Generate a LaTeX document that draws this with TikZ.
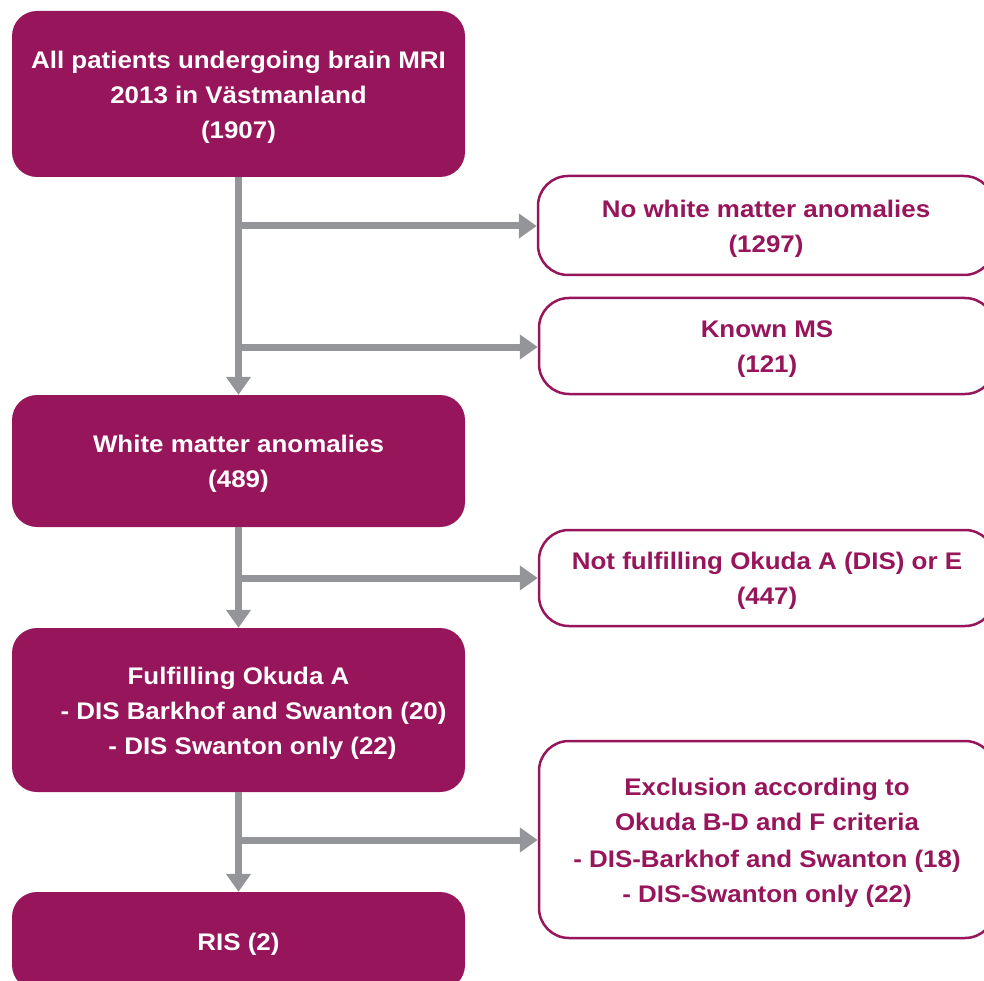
\documentclass[tikz,border=0pt]{standalone}
\usepackage{fontspec}
\setmainfont{Liberation Sans}[FakeStretch=1.08]
\usetikzlibrary{arrows.meta}
\definecolor{plum}{HTML}{97155A}
\definecolor{arrgray}{HTML}{939598}
\tikzset{
  x=1pt, y=-1pt,
  txt/.style={font=\fontsize{24}{35}\selectfont\bfseries, align=center, inner sep=0pt},
  fillbox/.style={fill=plum, rounded corners=25pt, minimum width=453pt, inner sep=0pt},
  outbox/.style={draw=plum, line width=2.5pt, fill=white, rounded corners=30pt, minimum width=456pt, inner sep=0pt},
  wtxt/.style={txt, text=white, yshift=-3pt},
  ptxt/.style={txt, text=plum, yshift=-3pt},
  arr/.style={draw=arrgray, line width=7pt, -{Triangle[length=18pt,width=24pt]}}
}
\begin{document}
\begin{tikzpicture}
\useasboundingbox (0,0) rectangle (984,981);
\clip (0,0) rectangle (984,981);
\node[fillbox, minimum height=166pt, label={[wtxt]center:All patients undergoing brain MRI\\2013 in Västmanland\\(1907)}] (b1) at (238.5,94) {};
\node[outbox, minimum height=99pt, label={[ptxt]center:No white matter anomalies\\(1297)}] (b2) at (766,225.5) {};
\node[outbox, minimum height=96pt, label={[ptxt]center:Known MS\\(121)}] (b3) at (767,346) {};
\node[fillbox, minimum height=132pt, label={[wtxt]center:White matter anomalies\\(489)}] (b4) at (238.5,461) {};
\node[outbox, minimum height=96pt, label={[ptxt]center:Not fulfilling Okuda A (DIS) or E\\(447)}] (b5) at (767,578) {};
\node[fillbox, minimum height=164pt, label={[wtxt]center:Fulfilling Okuda A\\\hspace*{30pt}- DIS Barkhof and Swanton (20)\\\hspace*{28pt}- DIS Swanton only (22)}] (b6) at (238.5,710) {};
\node[outbox, minimum height=197pt, label={[ptxt]center:Exclusion according to\\Okuda B-D and F criteria\\[2pt]- DIS-Barkhof and Swanton (18)\\- DIS-Swanton only (22)}] (b7) at (767,839.5) {};
\node[fillbox, minimum height=98pt, label={[wtxt]center:RIS (2)}] (b8) at (238.5,941) {};
% connectors
\coordinate (j1) at (238.5,226);
\coordinate (j2) at (238.5,347);
\coordinate (j3) at (238.5,578);
\coordinate (j4) at (238.5,840);
\draw[arr] (b1.south) -- (b4.north);
\draw[arr] (j1) -- (j1 -| b2.west);
\draw[arr] (j2) -- (j2 -| b3.west);
\draw[arr] (b4.south) -- (b6.north);
\draw[arr] (j3) -- (j3 -| b5.west);
\draw[arr] (b6.south) -- (b8.north);
\draw[arr] (j4) -- (j4 -| b7.west);
\end{tikzpicture}
\end{document}
